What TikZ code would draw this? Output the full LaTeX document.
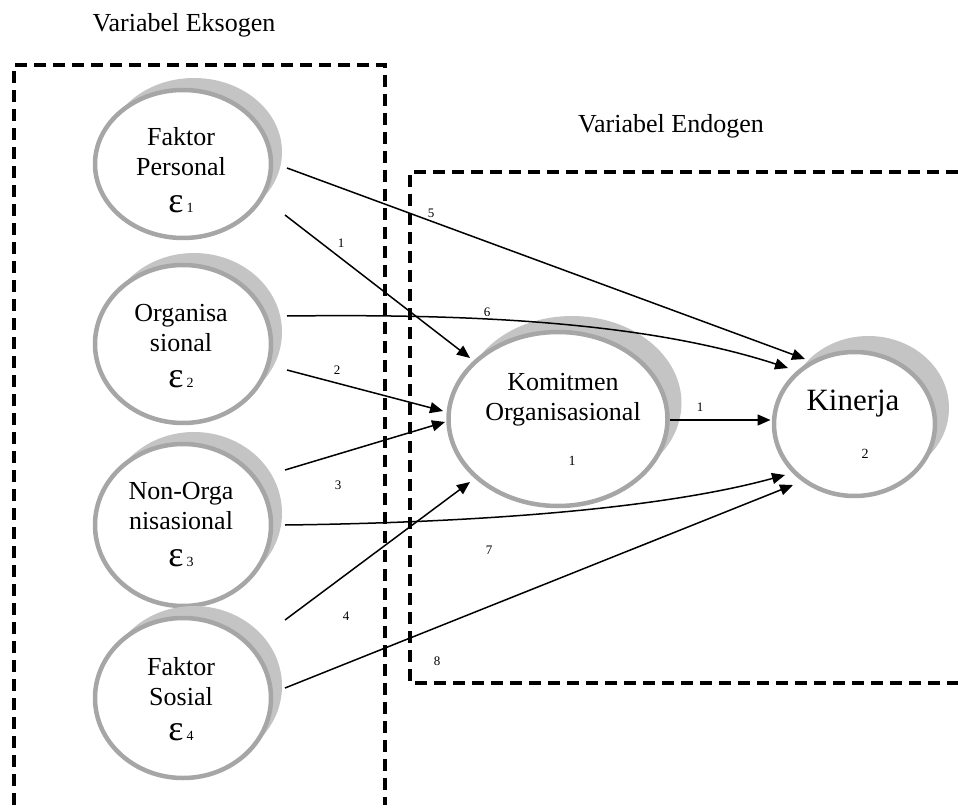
\documentclass[tikz,border=0pt]{standalone}
\usepackage{fontspec}
\setmainfont{Liberation Serif}
\usetikzlibrary{shapes.geometric,arrows.meta,calc,shadows}
\definecolor{shadowgray}{RGB}{196,196,196}
\definecolor{bordergray}{RGB}{166,166,166}
\newcommand{\epsl}[1]{{\fontsize{36}{36}\selectfont ε}\hspace{3pt}{\fontsize{14}{14}\selectfont #1}}
\begin{document}
\begin{tikzpicture}[x=1pt,y=-1pt,
  latent/.style={ellipse, draw=bordergray, line width=4.5pt, fill=white, inner sep=0pt, outer sep=0pt},
  exo/.style={latent, minimum width=176pt, general shadow={shadow xshift=11pt, shadow yshift=12pt, fill=shadowgray, draw=none}},
  endo/.style={latent, general shadow={shadow xshift=14pt, shadow yshift=16pt, fill=shadowgray, draw=none}},
  txt/.style={font=\fontsize{26}{30}\selectfont, align=center, inner sep=0pt},
  lab/.style={font=\fontsize{13}{13}\selectfont, inner sep=0pt},
  frame/.style={line width=3.5pt, dash pattern=on 12pt off 7pt},
  arr/.style={line width=1.5pt, -{Triangle[length=13pt,width=11pt]}}
]
\useasboundingbox (0,0) rectangle (958,810);

% headings
\node[txt, anchor=base] (hex) at (184,32) {Variabel Eksogen};
\node[txt, anchor=base] (hen) at (671,133) {Variabel Endogen};

% dashed frames
\draw[frame] (14,805) -- (14,65) -- (385,65) -- (385,805);
\draw[frame] (958,172) -- (410,172) -- (410,683) -- (958,683);

% latent variables
\node[exo, minimum height=148pt] (fp) at (183,164) {};
\node[exo, minimum height=158pt] (org) at (183,344) {};
\node[exo, minimum height=162pt] (non) at (183,525) {};
\node[exo, minimum height=160pt] (sos) at (183,698) {};
\node[endo, minimum width=219pt, minimum height=174pt] (kom) at (558,419) {};
\node[endo, minimum width=161pt, minimum height=144pt] (kin) at (854.5,424) {};

% texts in the ellipses
\node[txt, anchor=north] (tfp) at (181,127) {Faktor\\Personal\\[7pt]\epsl{1}};
\node[txt, anchor=north] (torg) at (181,304) {Organisa\\sional\\[6pt]\epsl{2}};
\node[txt, anchor=north] (tnon) at (181,482) {Non-Orga\\nisasional\\[7pt]\epsl{3}};
\node[txt, anchor=north] (tsos) at (181,657) {Faktor\\Sosial\\[5pt]\epsl{4}};
\node[txt, anchor=base] (tkom) at (563,420) {Komitmen\\Organisasional};
\node[lab, font=\fontsize{14}{14}\selectfont, anchor=base] (zkom) at (572,465) {1};
\node[txt, font=\fontsize{31}{31}\selectfont, anchor=base] (tkin) at (853,410) {Kinerja};
\node[lab, font=\fontsize{14}{14}\selectfont, anchor=base] (zkin) at (865,458) {2};

% connectors
\draw[arr] ($(fp.center)+(104,4)$) -- ($(kin.center)+(-49.5,-65)$);
\draw[arr] ($(fp.center)+(102,51)$) -- ($(kom.center)+(-88,-61)$);
\draw[arr] ($(org.center)+(104,-28)$) .. controls (460,314) and (640,320) .. ($(kin.center)+(-66.5,-56)$);
\draw[arr] ($(org.center)+(104,26)$) -- ($(kom.center)+(-115,-8)$);
\draw[arr] ($(non.center)+(102,-55)$) -- ($(kom.center)+(-113,3)$);
\draw[arr] ($(non.center)+(102,0)$) .. controls (450,523) and (650,512) .. ($(kin.center)+(-69.5,51)$);
\draw[arr] ($(sos.center)+(102,-78)$) -- ($(kom.center)+(-88,63)$);
\draw[arr] ($(sos.center)+(102,-10)$) -- ($(kin.center)+(-61.5,61)$);
\draw[arr] ($(kom.center)+(112,1)$) -- ($(kin.center)+(-84,-4)$);

% path labels
\node[lab] (l5) at (431,213) {5};
\node[lab] (l1) at (341,243) {1};
\node[lab] (l6) at (487,312) {6};
\node[lab] (l2) at (337,370) {2};
\node[lab] (l3) at (338,485) {3};
\node[lab] (l4) at (346,616) {4};
\node[lab] (l7) at (489,550) {7};
\node[lab] (l8) at (437,661) {8};
\node[lab] (l1b) at (700,407) {1};
\end{tikzpicture}
\end{document}
